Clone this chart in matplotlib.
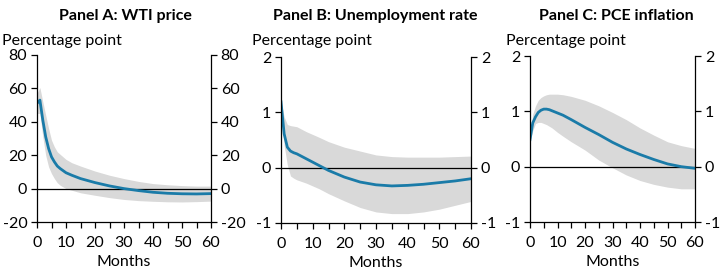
import matplotlib
matplotlib.use("Agg")
import matplotlib.pyplot as plt
import numpy as np

plt.rcParams['font.family'] = ['Lato', 'DejaVu Sans']
plt.rcParams['axes.unicode_minus'] = False

months = [0, 1, 2, 3, 4, 5, 6, 7, 8, 10, 12, 15, 20, 25, 30, 35, 40, 45, 50, 55, 60]

# Panel A: WTI price
wti = [51, 53, 41, 31, 24, 19, 16, 13.5, 12, 9.5, 8, 6, 3.6, 1.6, 0, -1.2, -2.2, -2.8, -3.1, -3.2, -3.0]
wti_hi = [57, 60.5, 52, 44, 36, 29, 25, 22, 20.5, 17.5, 15.5, 13.5, 10.5, 8, 6, 4.3, 3, 2.3, 1.8, 1.5, 1.5]
wti_lo = [45, 45, 31, 20, 13, 9, 6, 3.5, 2, 0, -1, -2.5, -4, -5.4, -6.5, -7.2, -7.6, -7.9, -8, -7.8, -7.5]

# Panel B: Unemployment rate
unemp = [1.19, 0.61, 0.37, 0.30, 0.27, 0.25, 0.22, 0.19, 0.16, 0.1, 0.04, -0.05, -0.17, -0.26, -0.31, -0.33, -0.32, -0.30, -0.27, -0.24, -0.2]
unemp_hi = [1.2, 0.92, 0.78, 0.76, 0.75, 0.74, 0.71, 0.68, 0.65, 0.6, 0.55, 0.47, 0.37, 0.3, 0.23, 0.2, 0.19, 0.19, 0.19, 0.2, 0.21]
unemp_lo = [1.1, 0.4, 0.05, -0.15, -0.19, -0.22, -0.24, -0.26, -0.28, -0.33, -0.38, -0.47, -0.6, -0.72, -0.8, -0.83, -0.83, -0.8, -0.75, -0.68, -0.61]

# Panel C: PCE inflation
pce = [0.49, 0.79, 0.9, 0.98, 1.02, 1.04, 1.04, 1.03, 1.01, 0.97, 0.93, 0.85, 0.71, 0.58, 0.44, 0.32, 0.22, 0.13, 0.05, 0.0, -0.03]
pce_hi = [0.55, 0.95, 1.1, 1.2, 1.25, 1.28, 1.3, 1.31, 1.31, 1.31, 1.3, 1.27, 1.2, 1.1, 0.98, 0.85, 0.7, 0.57, 0.45, 0.38, 0.33]
pce_lo = [0.45, 0.65, 0.78, 0.8, 0.8, 0.78, 0.76, 0.73, 0.7, 0.62, 0.55, 0.45, 0.3, 0.12, -0.02, -0.15, -0.25, -0.32, -0.37, -0.4, -0.4]

panels = [
    ("Panel A: WTI price", wti, wti_lo, wti_hi, (-20, 80), [-20, 0, 20, 40, 60, 80]),
    ("Panel B: Unemployment rate", unemp, unemp_lo, unemp_hi, (-1, 2), [-1, 0, 1, 2]),
    ("Panel C: PCE inflation", pce, pce_lo, pce_hi, (-1, 2), [-1, 0, 1, 2]),
]

W, H = 725, 276
boxes = [(37, 211, 55, 222), (281, 471, 57, 223), (530, 695, 56, 222)]
title_x = [125, 375, 616]
label_x = [2, 252, 506]

fig = plt.figure(figsize=(7.25, 2.76), dpi=100)

for i, (title, y, lo, hi, ylim, yt) in enumerate(panels):
    l, r, t, b = boxes[i]
    ax = fig.add_axes([l / W, 1 - b / H, (r - l) / W, (b - t) / H])
    ax.fill_between(months, lo, hi, color='#d9d9d9', linewidth=0)
    ax.axhline(0, color='black', linewidth=0.9)
    ax.plot(months, y, color='#1a7ba8', linewidth=2)
    ax.set_xlim(0, 60)
    ax.set_ylim(*ylim)
    ax.set_yticks(yt)
    ax.set_xticks(np.arange(0, 61, 10))
    ax.set_xticks(np.arange(0, 61, 5), minor=True)
    ax.spines['top'].set_visible(False)
    for s in ['left', 'right', 'bottom']:
        ax.spines[s].set_color('black')
        ax.spines[s].set_linewidth(0.9)
    ax.tick_params(axis='y', which='both', left=True, right=True, labelleft=True,
                   labelright=True, direction='out', length=4, width=0.9, labelsize=11.5, pad=3)
    ax.tick_params(axis='x', which='both', direction='out', length=4, width=0.9, labelsize=11.5, pad=6)
    ax.set_xlabel('Months', fontsize=11.5, labelpad=4)
    fig.text(title_x[i] / W, 1 - 16 / H, title, ha='center', va='center',
             fontsize=11.5, fontweight='bold')
    fig.text(label_x[i] / W, 1 - 41 / H, 'Percentage point', ha='left', va='center', fontsize=11.5)

fig.savefig('out.png', dpi=100)
